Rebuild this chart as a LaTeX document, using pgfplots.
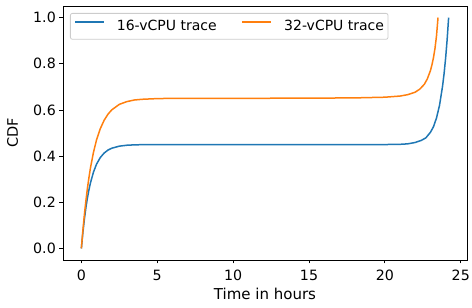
\documentclass[border=0pt]{standalone}
\usepackage{fontspec}
\setmainfont{DejaVu Sans}
\usepackage{pgfplots}
\pgfplotsset{compat=1.18}
\definecolor{mplblue}{RGB}{31,119,180}
\definecolor{mplorange}{RGB}{255,127,14}
\begin{document}
\begin{tikzpicture}
\begin{axis}[
  scale only axis,
  width=404pt, height=254pt,
  xmin=-1.21, xmax=25.41, ymin=-0.05, ymax=1.05,
  xtick={0,5,10,15,20,25},
  ytick={0,0.2,0.4,0.6,0.8,1.0},
  /pgf/number format/assume math mode=true,
  yticklabel style={/pgf/number format/fixed, /pgf/number format/fixed zerofill, /pgf/number format/precision=1},
  tick align=outside, tick pos=left,
  major tick length=3.5pt,
  axis line style={line width=0.8pt, black},
  every tick/.style={black, line width=0.8pt},
  tick label style={font=\fontsize{14.2}{16}\selectfont},
  xticklabel style={anchor=base, inner sep=0pt, yshift=-16.5pt},
  yticklabel style={anchor=east, inner sep=0pt, xshift=-3.5pt},
  xlabel={Time in hours}, ylabel={CDF},
  every axis x label/.style={at={(axis description cs:0.5,-0.1547)}, anchor=base, font=\fontsize{15}{17}\selectfont},
  every axis y label/.style={at={(axis description cs:-0.125,0.5)}, rotate=90, anchor=center, font=\fontsize{14.5}{17}\selectfont},
  legend columns=2,
  legend style={at={(axis description cs:0,1)}, anchor=north west, xshift=7pt, yshift=-7pt,
    draw=black!20, line width=0.8pt, rounded corners=2pt, inner xsep=4pt, inner ysep=7pt,
    font=\fontsize{14}{16}\selectfont, nodes={inner sep=0pt},
    /tikz/every odd column/.append style={column sep=12pt},
    /tikz/every even column/.append style={column sep=25pt}},
  legend image code/.code={\draw[#1, line width=1.5pt] (0pt,4.5pt) -- (29pt,4.5pt);},
]
\addplot[mplblue, line width=1.5pt] coordinates {
(0,0) (0.1,0.069) (0.2,0.127) (0.3,0.177) (0.4,0.219) (0.5,0.254) (0.6,0.284)
(0.8,0.331) (1.0,0.365) (1.25,0.394) (1.5,0.413) (1.75,0.426) (2.0,0.434)
(2.5,0.443) (3.0,0.447) (3.5,0.4487) (4.0,0.4494) (5.0,0.4499) (7,0.45)
(10,0.45) (15,0.45) (20,0.45) (21,0.451) (21.5,0.453) (22.0,0.459) (22.4,0.468)
(22.7,0.479) (23.0,0.503) (23.2,0.527) (23.4,0.565) (23.6,0.62) (23.8,0.703)
(23.9,0.757) (24.0,0.823) (24.1,0.903) (24.2,1.0)
};
\addlegendentry{16-vCPU trace}
\addplot[mplorange, line width=1.5pt] coordinates {
(0,0) (0.1,0.078) (0.2,0.147) (0.3,0.207) (0.4,0.261) (0.5,0.307) (0.6,0.349)
(0.8,0.417) (1.0,0.470) (1.25,0.519) (1.5,0.555) (1.75,0.581) (2.0,0.600)
(2.5,0.624) (3.0,0.636) (3.5,0.643) (4.0,0.646) (5.0,0.649) (6,0.650)
(10,0.650) (15,0.651) (18,0.652) (20,0.655) (21,0.660) (21.5,0.666) (22.0,0.677)
(22.3,0.690) (22.6,0.711) (22.8,0.735) (23.0,0.770) (23.1,0.795) (23.2,0.826)
(23.3,0.866) (23.4,0.92) (23.5,1.0)
};
\addlegendentry{32-vCPU trace}
\end{axis}
\pgfresetboundingbox
\path[use as bounding box] ([xshift=-63pt,yshift=-48pt]current axis.south west) rectangle ([xshift=5pt,yshift=6pt]current axis.north east);
\end{tikzpicture}
\end{document}
